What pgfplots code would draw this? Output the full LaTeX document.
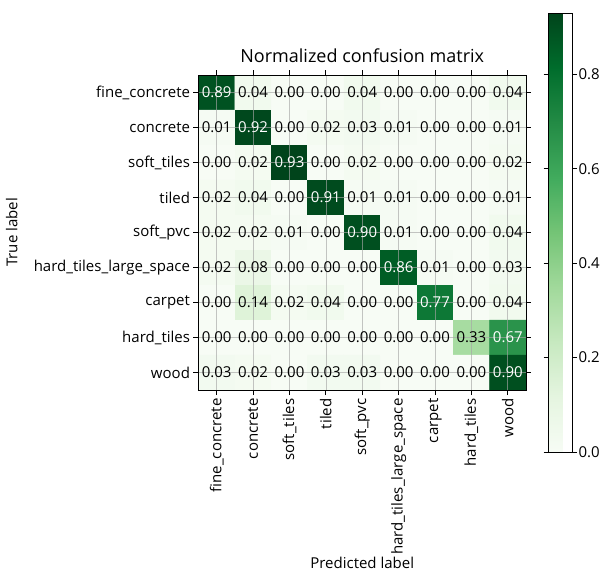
\documentclass[border=0pt]{standalone}
\usepackage{pgfplots}
\pgfplotsset{compat=1.18}
\usepackage{pgfplotstable}
\usepackage{fontspec}
\setmainfont{Open Sans}
\newcommand{\lbl}{\fontsize{15}{18}\selectfont}
\pgfplotstableread{
x y c
0 0 0.89
1 0 0.04
2 0 0.00
3 0 0.00
4 0 0.04
5 0 0.00
6 0 0.00
7 0 0.00
8 0 0.04
0 1 0.01
1 1 0.92
2 1 0.00
3 1 0.02
4 1 0.03
5 1 0.01
6 1 0.00
7 1 0.00
8 1 0.01
0 2 0.00
1 2 0.02
2 2 0.93
3 2 0.00
4 2 0.02
5 2 0.00
6 2 0.00
7 2 0.00
8 2 0.02
0 3 0.02
1 3 0.04
2 3 0.00
3 3 0.91
4 3 0.01
5 3 0.01
6 3 0.00
7 3 0.00
8 3 0.01
0 4 0.02
1 4 0.02
2 4 0.01
3 4 0.00
4 4 0.90
5 4 0.01
6 4 0.00
7 4 0.00
8 4 0.04
0 5 0.02
1 5 0.08
2 5 0.00
3 5 0.00
4 5 0.00
5 5 0.86
6 5 0.01
7 5 0.00
8 5 0.03
0 6 0.00
1 6 0.14
2 6 0.02
3 6 0.04
4 6 0.00
5 6 0.00
6 6 0.77
7 6 0.00
8 6 0.04
0 7 0.00
1 7 0.00
2 7 0.00
3 7 0.00
4 7 0.00
5 7 0.00
6 7 0.00
7 7 0.33
8 7 0.67
0 8 0.03
1 8 0.02
2 8 0.00
3 8 0.03
4 8 0.03
5 8 0.00
6 8 0.00
7 8 0.00
8 8 0.90
}\cm
\begin{document}
\begin{tikzpicture}
\begin{axis}[
  scale only axis,
  width=327.5pt, height=315pt,
  xmin=-0.5, xmax=8.5, ymin=-0.5, ymax=8.5,
  y dir=reverse,
  enlargelimits=false,
  axis on top,
  axis line style={black, line width=0.8pt},
  colormap={greens}{rgb255=(247,252,245) rgb255=(229,245,224) rgb255=(199,233,192) rgb255=(161,217,155) rgb255=(116,196,118) rgb255=(65,171,93) rgb255=(35,139,69) rgb255=(0,109,44) rgb255=(0,68,27)},
  point meta min=0, point meta max=0.93,
  xtick={0,...,8}, ytick={0,...,8},
  xticklabels={fine\_concrete,concrete,soft\_tiles,tiled,soft\_pvc,hard\_tiles\_large\_space,carpet,hard\_tiles,wood},
  yticklabels={fine\_concrete,concrete,soft\_tiles,tiled,soft\_pvc,hard\_tiles\_large\_space,carpet,hard\_tiles,wood},
  xticklabel style={rotate=90, anchor=east, font=\lbl},
  yticklabel style={font=\lbl},
  tick align=outside, major tick length=5pt,
  tick style={black, line width=0.8pt},
  grid=major,
  grid style={gray!70, opacity=0.65, line width=0.6pt},
  title={Normalized confusion matrix},
  title style={at={(axis description cs:0.5,1.022)}, anchor=base, yshift=0pt, font=\fontsize{18}{21}\selectfont},
  xlabel={Predicted label},
  xlabel style={at={(axis description cs:0.5,-0.567)}, anchor=base, font=\lbl},
  ylabel={True label},
  ylabel style={at={(axis description cs:-0.57,0.5)}, anchor=center, font=\lbl},
  colorbar,
  colorbar style={
    at={(parent axis.north east)},
    anchor=north west,
    xshift=14.2pt, yshift=62pt,
    width=23.3pt, height=439pt,
    ytick={0,0.2,0.4,0.6,0.8},
    yticklabel style={font=\lbl, xshift=-2pt, /pgf/number format/.cd, fixed, fixed zerofill, precision=1, assume math mode=true},
    tick align=outside, major tick length=5pt,
    tick style={black, line width=0.8pt},
    axis line style={black, line width=0.8pt},
  },
  /pgf/number format/assume math mode=true,
]
\addplot[matrix plot*, mesh/cols=9, point meta=explicit] table[x=x, y=y, meta=c] {\cm};
\addplot[only marks, mark=none, point meta=explicit,
  restrict expr to domain={\thisrow{c}}{0:0.465},
  nodes near coords={\pgfmathprintnumber[fixed,fixed zerofill,precision=2,assume math mode=true]{\pgfplotspointmeta}},
  nodes near coords style={anchor=center, font=\lbl, text=black}]
  table[x=x, y=y, meta=c] {\cm};
\addplot[only marks, mark=none, point meta=explicit,
  restrict expr to domain={\thisrow{c}}{0.465:1},
  nodes near coords={\pgfmathprintnumber[fixed,fixed zerofill,precision=2,assume math mode=true]{\pgfplotspointmeta}},
  nodes near coords style={anchor=center, font=\lbl, text=white}]
  table[x=x, y=y, meta=c] {\cm};
\end{axis}
\pgfresetboundingbox
\path (current axis.south west) ++(-198.5pt,-181pt) rectangle ++(601pt,571pt);
\end{tikzpicture}
\end{document}
